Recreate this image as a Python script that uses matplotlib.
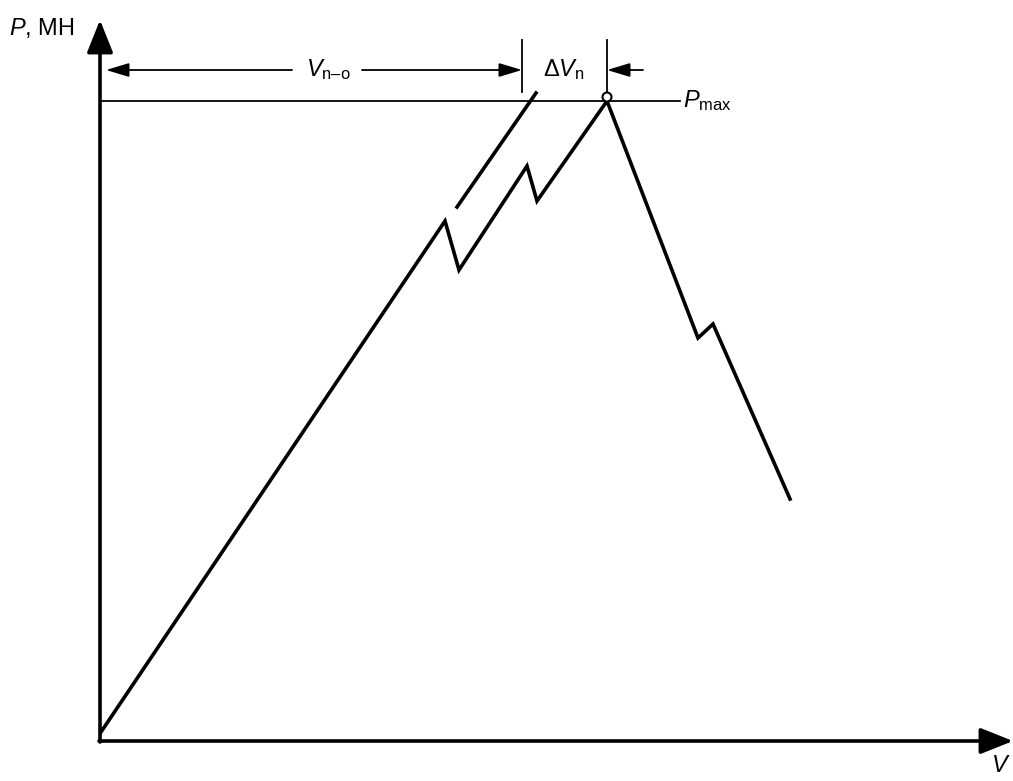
import matplotlib.pyplot as plt
from matplotlib.patches import Circle

plt.rcParams["font.family"] = ["Liberation Sans", "DejaVu Sans"]
plt.rcParams["mathtext.fontset"] = "custom"
plt.rcParams["mathtext.rm"] = "Liberation Sans"
plt.rcParams["mathtext.it"] = "Liberation Sans:italic"
plt.rcParams["mathtext.sf"] = "Liberation Sans"

# load curve (V, P) in drawing units, origin at the axes corner
curve_v = [1, 345, 359, 427, 437, 507, 598, 613, 690]
curve_p = [9, 520, 471, 575, 540, 640, 403, 417, 242]

# extrapolated initial slope line
slope_v = [357, 436]
slope_p = [534, 648]

p_max = 640
v_peak = 507
v_offset = 422        # end of V_n-o
dim_level = 671       # height of dimension arrows

fig = plt.figure(figsize=(10.13, 7.81), dpi=100)
ax = fig.add_axes([0, 0, 1, 1])
ax.set_xlim(-100, 913)
ax.set_ylim(-40, 741)
ax.axis("off")

black = "black"
fs = 17

# axes with arrows
ax.annotate("", xy=(0, 721), xytext=(0, -1),
            arrowprops=dict(arrowstyle="-|>,head_length=1.0,head_width=0.4",
                            mutation_scale=20, lw=2.6, color=black,
                            shrinkA=0, shrinkB=0))
ax.annotate("", xy=(913, 0), xytext=(-1, 0),
            arrowprops=dict(arrowstyle="-|>,head_length=1.0,head_width=0.4",
                            mutation_scale=20, lw=2.6, color=black,
                            shrinkA=0, shrinkB=0))
ax.text(-91, 713, "$\\mathit{P}$, MH", fontsize=fs, va="center", ha="left")
ax.text(911, -25, "$\\mathit{V}$", fontsize=fs, va="center", ha="right")

# P_max line
ax.plot([0, 580], [p_max, p_max], color=black, lw=1.3)
ax.text(583, p_max, "$\\mathit{P}_{\\mathrm{max}}$", fontsize=fs, va="center", ha="left")

# curves
ax.plot(curve_v, curve_p, color=black, lw=2.6, solid_joinstyle="miter")
ax.plot(slope_v, slope_p, color=black, lw=2.6)
ax.add_patch(Circle((v_peak, p_max + 4), 4.5, facecolor="white",
                    edgecolor=black, lw=1.5, zorder=5))

# extension lines
ax.plot([v_offset, v_offset], [649, 701], color=black, lw=1.3)
ax.plot([v_peak, v_peak], [649, 701], color=black, lw=1.3)

# dimension arrows
arrow_thin = dict(arrowstyle="-|>,head_length=1.0,head_width=0.3",
                  mutation_scale=14, lw=1.3, color=black, shrinkA=0, shrinkB=0)
ax.annotate("", xy=(6, dim_level), xytext=(192, dim_level), arrowprops=arrow_thin)
ax.annotate("", xy=(v_offset, dim_level), xytext=(262, dim_level), arrowprops=arrow_thin)
ax.annotate("", xy=(v_peak, dim_level), xytext=(543, dim_level), arrowprops=arrow_thin)
ax.text(228, dim_level, "$\\mathit{V}_{\\mathrm{n\u2013o}}$", fontsize=fs,
        va="center", ha="center")
ax.text(464, dim_level, "$\\mathrm{\\Delta}\\mathit{V}_{\\mathrm{n}}$", fontsize=fs,
        va="center", ha="center")

fig.savefig("out.png", dpi=100)
